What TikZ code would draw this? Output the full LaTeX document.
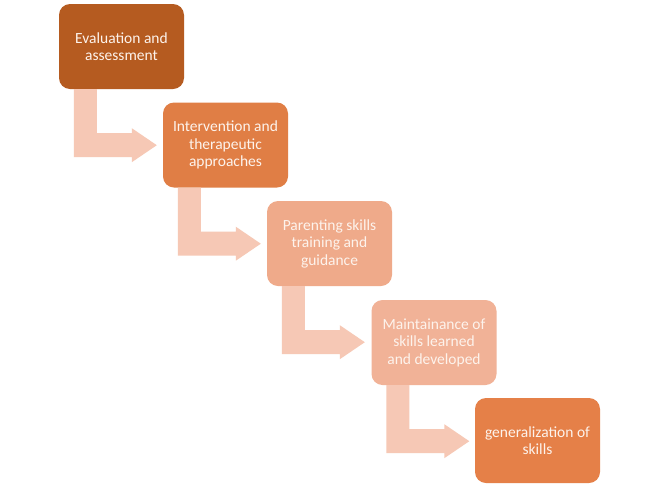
\documentclass[tikz,border=0pt]{standalone}
\usepackage{fontspec}
\setmainfont{Carlito}
\usetikzlibrary{calc}
\definecolor{cA}{HTML}{B55B20}
\definecolor{cB}{HTML}{E07E45}
\definecolor{cC}{HTML}{EFAA8A}
\definecolor{cD}{HTML}{F1B297}
\definecolor{cE}{HTML}{E58048}
\definecolor{cArrow}{HTML}{F6C8B5}
\definecolor{cText}{HTML}{FDF3EC}
\tikzset{
  stepbox/.style={rectangle, rounded corners=11pt, minimum width=125pt, minimum height=85pt,
    inner sep=0pt, align=center, text=cText,
    font=\fontsize{15.5}{17.5}\selectfont},
  bentarrow/.style={fill=cArrow, draw=none}
}
\newcommand{\bentarrowfrom}[1]{%
  \fill[bentarrow] ($(#1.south west)+(15,0)$) -- ++(0,68) -- ++(58,0) -- ++(0,5)
    -- ++(25,-17) -- ++(-25,-17) -- ++(0,5) -- ++(-35,0) -- ++(0,-44) -- cycle;}
\begin{document}
\begin{tikzpicture}[x=1pt,y=-1pt]
\useasboundingbox (0,0) rectangle (657,491);
\fill[white] (0,0) rectangle (657,491);
\node[stepbox, fill=cA] (b1) at (121.5,46.5) {Evaluation and\\assessment};
\node[stepbox, fill=cB] (b2) at (225.5,145) {Intervention and\\therapeutic\\approaches};
\node[stepbox, fill=cC] (b3) at (329.5,243.5) {Parenting skills\\training and\\guidance};
\node[stepbox, fill=cD] (b4) at (434,342.5) {Maintainance of\\skills learned\\and developed};
\node[stepbox, fill=cE] (b5) at (537.5,440.5) {generalization of\\skills};
\bentarrowfrom{b1}
\bentarrowfrom{b2}
\bentarrowfrom{b3}
\bentarrowfrom{b4}
\end{tikzpicture}
\end{document}
